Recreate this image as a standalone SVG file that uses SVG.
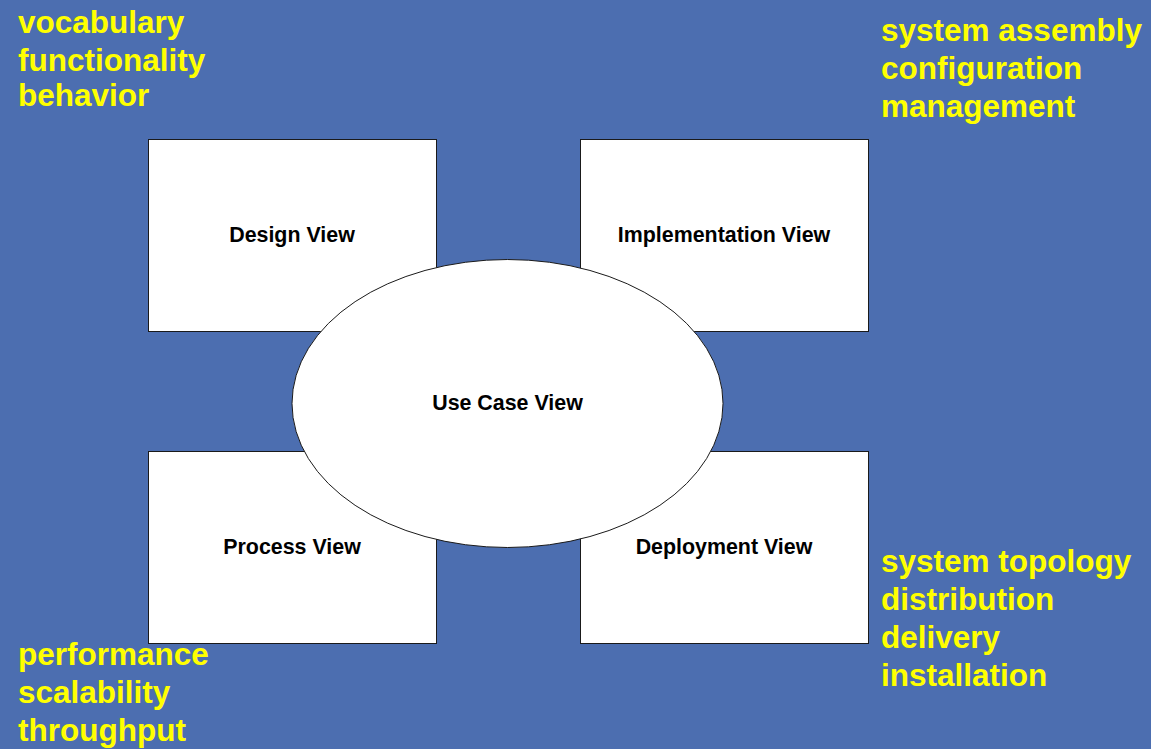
<svg xmlns="http://www.w3.org/2000/svg" width="1151" height="749" viewBox="0 0 1151 749">
<style>
.box{fill:#ffffff;stroke:#1a1a1a;stroke-width:1}
.lbl{font-family:"Liberation Sans",Arial,sans-serif;font-weight:bold;font-size:21.4px;fill:#000;text-anchor:middle}
.note{font-family:"Liberation Sans",Arial,sans-serif;font-weight:bold;font-size:31.5px;fill:#ffff00}
</style>
<rect x="0" y="0" width="1151" height="749" fill="#4c6eb0"/>
<g id="notes">
<text class="note" x="18" y="33">vocabulary</text>
<text class="note" x="18" y="71">functionality</text>
<text class="note" x="18" y="106">behavior</text>
<text class="note" x="881" y="41">system assembly</text>
<text class="note" x="881" y="79">configuration</text>
<text class="note" x="881" y="117">management</text>
<text class="note" x="18" y="665">performance</text>
<text class="note" x="18" y="703">scalability</text>
<text class="note" x="18" y="741">throughput</text>
<text class="note" x="881" y="572">system topology</text>
<text class="note" x="881" y="610">distribution</text>
<text class="note" x="881" y="648">delivery</text>
<text class="note" x="881" y="686">installation</text>
</g>
<g id="connectors"></g>
<g id="design"><rect class="box" x="148.5" y="139.5" width="288" height="192"/><text class="lbl" x="292" y="242">Design View</text></g>
<g id="implementation"><rect class="box" x="580.5" y="139.5" width="288" height="192"/><text class="lbl" x="724" y="242">Implementation View</text></g>
<g id="process"><rect class="box" x="148.5" y="451.5" width="288" height="192"/><text class="lbl" x="292" y="554">Process View</text></g>
<g id="deployment"><rect class="box" x="580.5" y="451.5" width="288" height="192"/><text class="lbl" x="724" y="554">Deployment View</text></g>
<g id="usecase"><ellipse class="box" cx="507.5" cy="403.5" rx="215.5" ry="144"/><text class="lbl" x="507.5" y="410">Use Case View</text></g>
</svg>
